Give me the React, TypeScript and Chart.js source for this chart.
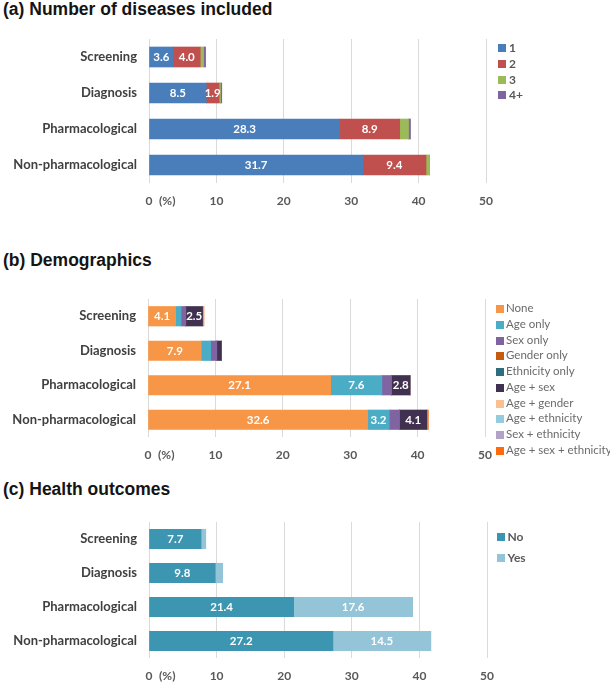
import React, { useEffect, useRef } from "react";
import { Chart, registerables } from "chart.js";

Chart.register(...registerables);

// Shared categories and axis ticks
const categories = ["Screening", "Diagnosis", "Pharmacological", "Non-pharmacological"];
const xTickValues = [0, 10, 20, 30, 40, 50];

// (a) Number of diseases included
const diseaseNames = ["1", "2", "3", "4+"];
const diseases1 = [3.6, 8.5, 28.3, 31.7];
const diseases2 = [4.0, 1.9, 8.9, 9.4];
const diseases3 = [0.5, 0.2, 1.3, 0.5];
const diseases4 = [0.3, 0.2, 0.3, 0.0];
const diseaseColors = ["#4a7ebb", "#c0504d", "#9bbb59", "#8064a2"];

// (b) Demographics
const demoNames = [
  "None",
  "Age only",
  "Sex only",
  "Gender only",
  "Ethnicity only",
  "Age + sex",
  "Age + gender",
  "Age + ethnicity",
  "Sex + ethnicity",
  "Age + sex + ethnicity",
];
const demoNone = [4.1, 7.9, 27.1, 32.6];
const demoAgeOnly = [0.8, 1.4, 7.6, 3.2];
const demoSexOnly = [0.7, 0.9, 1.4, 1.5];
const demoGenderOnly = [0.0, 0.0, 0.0, 0.0];
const demoEthnicityOnly = [0.0, 0.0, 0.0, 0.0];
const demoAgeSex = [2.5, 0.7, 2.8, 4.1];
const demoAgeGender = [0.0, 0.0, 0.0, 0.0];
const demoAgeEthnicity = [0.1, 0.0, 0.0, 0.1];
const demoSexEthnicity = [0.0, 0.0, 0.0, 0.0];
const demoAgeSexEthnicity = [0.1, 0.0, 0.0, 0.1];
const demoColors = [
  "#f79646",
  "#4bacc6",
  "#8064a2",
  "#c55a11",
  "#2d6e7e",
  "#403151",
  "#fac090",
  "#93cddd",
  "#b3a2c7",
  "#ff6a0a",
];

// (c) Health outcomes
const outcomeNames = ["No", "Yes"];
const outcomeNo = [7.7, 9.8, 21.4, 27.2];
const outcomeYes = [0.7, 1.1, 17.6, 14.5];
const outcomeColors = ["#3c96b1", "#93c4d7"];

const LABEL_FONT = "Lato";
const TICK_OFFSET = 18; // distance from plot bottom to the centre of x tick labels

// White value labels centred in segments wide enough to be read
const valueLabels = {
  id: "valueLabels",
  afterDatasetsDraw(chart: any, _args: any, opts: any) {
    const { ctx } = chart;
    ctx.save();
    ctx.font = `bold 11.5px ${LABEL_FONT}`;
    ctx.fillStyle = "#ffffff";
    ctx.textAlign = "center";
    ctx.textBaseline = "middle";
    chart.data.datasets.forEach((ds: any, di: number) => {
      const meta = chart.getDatasetMeta(di);
      meta.data.forEach((el: any, i: number) => {
        const v = ds.data[i];
        if (v < (opts.min ?? 1.8)) return;
        const { x, base, y } = el.getProps(["x", "base", "y"], true);
        ctx.fillText(v.toFixed(1), (x + base) / 2, y + 0.5);
      });
    });
    ctx.restore();
  },
};

// X tick labels plus the "(%)" unit beside the zero tick
const xTickText = {
  id: "xTickText",
  afterDraw(chart: any) {
    const scale = chart.scales.x;
    const { ctx, chartArea } = chart;
    const y = chartArea.bottom + TICK_OFFSET;
    ctx.save();
    ctx.font = `bold 12px ${LABEL_FONT}`;
    ctx.fillStyle = "#595959";
    ctx.textBaseline = "middle";
    ctx.textAlign = "center";
    xTickValues.forEach((v) => {
      ctx.fillText(String(v), scale.getPixelForValue(v), y);
    });
    ctx.textAlign = "left";
    ctx.fillText("(%)", scale.getPixelForValue(0) + 10, y);
    ctx.restore();
  },
};

type PanelCfg = {
  top: number;
  height: number;
  padTop: number;
  axisLeft: number;
  axisRight: number;
  xAxisH: number;
  barThickness: number;
  names: string[];
  colors: string[];
  series: number[][];
};

function BarPanel({ cfg }: { cfg: PanelCfg }) {
  const ref = useRef<HTMLCanvasElement | null>(null);
  useEffect(() => {
    if (!ref.current) return;
    const chart = new Chart(ref.current, {
      type: "bar",
      data: {
        labels: categories,
        datasets: cfg.series.map((s, i) => ({
          label: cfg.names[i],
          data: s,
          backgroundColor: cfg.colors[i],
          borderWidth: 0,
          barThickness: cfg.barThickness,
        })),
      },
      options: {
        indexAxis: "y",
        responsive: false,
        animation: false,
        layout: { padding: { top: cfg.padTop, right: 610 - cfg.axisRight, left: 0, bottom: 0 } },
        plugins: {
          legend: { display: false },
          tooltip: { enabled: false },
          valueLabels: { min: 1.8 },
        } as any,
        scales: {
          x: {
            stacked: true,
            min: 0,
            max: 50,
            afterBuildTicks: (s: any) => {
              s.ticks = xTickValues.map((v) => ({ value: v }));
            },
            ticks: { display: false },
            grid: { color: "#dadada", lineWidth: 1, drawTicks: false },
            border: { display: false },
            afterFit: (s: any) => {
              s.height = cfg.xAxisH;
              s.paddingLeft = 0;
              s.paddingRight = 0;
            },
          },
          y: {
            stacked: true,
            ticks: {
              font: { family: LABEL_FONT, size: 13, weight: "bold" },
              color: "#404040",
              padding: 12,
            },
            grid: { display: false, drawTicks: false },
            border: { display: false },
            afterFit: (s: any) => {
              s.width = cfg.axisLeft;
              s.paddingTop = 0;
              s.paddingBottom = 0;
            },
          },
        },
      } as any,
      plugins: [valueLabels, xTickText],
    });
    return () => chart.destroy();
  }, [cfg]);
  return (
    <canvas
      ref={ref}
      width={610}
      height={cfg.height}
      style={{ position: "absolute", left: 0, top: cfg.top, display: "block" }}
    />
  );
}

function Legend({
  names,
  colors,
  boxX,
  textX,
  y0,
  dy,
  bold,
  size,
  color,
}: {
  names: string[];
  colors: string[];
  boxX: number;
  textX: number;
  y0: number;
  dy: number;
  bold: boolean;
  size: number;
  color: string;
}) {
  return (
    <>
      {names.map((n, i) => (
        <React.Fragment key={n}>
          <div
            style={{
              position: "absolute",
              left: boxX,
              top: y0 + i * dy - 4,
              width: 8,
              height: 8,
              background: colors[i],
            }}
          />
          <div
            style={{
              position: "absolute",
              left: textX,
              top: y0 + i * dy - 8,
              height: 16,
              lineHeight: "16px",
              font: `${bold ? "bold " : ""}${size}px ${LABEL_FONT}`,
              color,
              whiteSpace: "nowrap",
            }}
          >
            {n}
          </div>
        </React.Fragment>
      ))}
    </>
  );
}

function Title({ text, y }: { text: string; y: number }) {
  return (
    <div
      style={{
        position: "absolute",
        left: 3,
        top: y - 12,
        height: 24,
        lineHeight: "24px",
        font: "bold 17.5px 'Liberation Sans', Arial, sans-serif",
        color: "#141414",
        whiteSpace: "nowrap",
      }}
    >
      {text}
    </div>
  );
}

const panelA: PanelCfg = {
  top: 28,
  height: 185,
  padTop: 11,
  axisLeft: 149,
  axisRight: 486,
  xAxisH: 30,
  barThickness: 20,
  names: diseaseNames,
  colors: diseaseColors,
  series: [diseases1, diseases2, diseases3, diseases4],
};

const panelB: PanelCfg = {
  top: 285,
  height: 182,
  padTop: 14,
  axisLeft: 148,
  axisRight: 485,
  xAxisH: 30,
  barThickness: 19.5,
  names: demoNames,
  colors: demoColors,
  series: [
    demoNone,
    demoAgeOnly,
    demoSexOnly,
    demoGenderOnly,
    demoEthnicityOnly,
    demoAgeSex,
    demoAgeGender,
    demoAgeEthnicity,
    demoSexEthnicity,
    demoAgeSexEthnicity,
  ],
};

const panelC: PanelCfg = {
  top: 510,
  height: 173,
  padTop: 12,
  axisLeft: 149,
  axisRight: 487,
  xAxisH: 25,
  barThickness: 19.5,
  names: outcomeNames,
  colors: outcomeColors,
  series: [outcomeNo, outcomeYes],
};

export default function App() {
  return (
    <div
      style={{
        position: "absolute",
        left: 0,
        top: 0,
        width: 610,
        height: 683,
        background: "#ffffff",
        overflow: "hidden",
      }}
    >
      <Title text="(a) Number of diseases included" y={11} />
      <BarPanel cfg={panelA} />
      <Legend names={diseaseNames} colors={diseaseColors} boxX={498} textX={509} y0={48} dy={15.8} bold size={12} color="#595959" />

      <Title text="(b) Demographics" y={262} />
      <BarPanel cfg={panelB} />
      <Legend names={demoNames} colors={demoColors} boxX={496} textX={506} y0={309} dy={15.75} bold={false} size={11.5} color="#6b6b6b" />

      <Title text="(c) Health outcomes" y={491} />
      <BarPanel cfg={panelC} />
      <Legend names={outcomeNames} colors={outcomeColors} boxX={497} textX={507.5} y0={537} dy={21} bold size={12} color="#595959" />
    </div>
  );
}
